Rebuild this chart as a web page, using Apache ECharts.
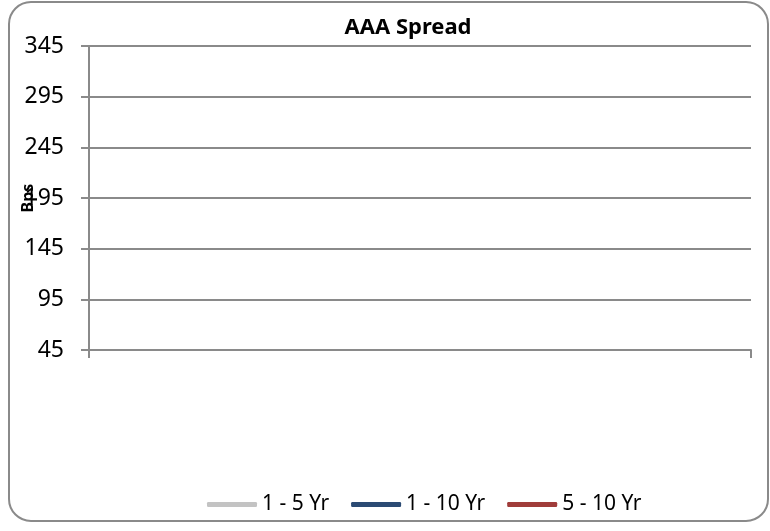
<!DOCTYPE html>
<html>
<head>
<meta charset="utf-8">
<script src="https://cdn.jsdelivr.net/npm/echarts@6/dist/echarts.min.js"></script>
<style>
  html, body { margin: 0; padding: 0; background: #fff; }
  #chart { width: 770px; height: 531px; }
</style>
</head>
<body>
<div id="chart"></div>
<script>
// chart data (no points were plotted in the source chart)
var categories = [""];
var yTicks = [45, 95, 145, 195, 245, 295, 345];
var seriesNames = ["1 - 5 Yr", "1 - 10 Yr", "5 - 10 Yr"];
var seriesColors = ["#c3c3c3", "#2b4a73", "#a03c3a"];
var seriesData = [[], [], []];

var myChart = echarts.init(document.getElementById("chart"));

var option = {
  backgroundColor: "#fff",
  textStyle: { fontFamily: "Noto Sans" },
  title: {
    text: "AAA Spread",
    left: 403,
    top: 12,
    textAlign: "center",
    textStyle: { fontSize: 22, fontWeight: "bold", color: "#000", fontFamily: "Noto Sans" }
  },
  graphic: [
    {
      type: "rect",
      shape: { x: 9, y: 2, width: 759, height: 519, r: 22 },
      style: { fill: "none", stroke: "#8a8a8a", lineWidth: 2 },
      silent: true
    }
  ],
  legend: {
    left: 202,
    top: 489,
    icon: "roundRect",
    itemWidth: 50,
    itemHeight: 5,
    itemGap: 22,
    textStyle: { fontSize: 21, color: "#000", fontFamily: "Noto Sans" },
    data: seriesNames
  },
  grid: { left: 89, right: 19, top: 46, bottom: 181, outerBoundsMode: "none", containLabel: false },
  xAxis: {
    type: "category",
    data: categories,
    boundaryGap: true,
    axisLine: { lineStyle: { color: "#8a8a8a", width: 2 } },
    axisTick: { show: true, length: 8, lineStyle: { color: "#8a8a8a", width: 2 } },
    axisLabel: { show: false }
  },
  yAxis: {
    type: "value",
    min: yTicks[0],
    max: yTicks[yTicks.length - 1],
    name: "Bps",
    nameLocation: "middle",
    nameRotate: 90,
    nameGap: 53,
    nameMoveOverlap: false,
    nameTextStyle: { fontSize: 16, fontWeight: "bold", color: "#000", fontFamily: "Noto Sans" },
    axisLine: { show: true, lineStyle: { color: "#8a8a8a", width: 2 } },
    axisTick: { show: true, length: 8, customValues: yTicks, lineStyle: { color: "#8a8a8a", width: 2 } },
    axisLabel: { margin: 25, fontSize: 23, color: "#000", customValues: yTicks },
    splitLine: { show: true, lineStyle: { color: "#8a8a8a", width: 2 } }
  },
  series: seriesNames.map(function (n, i) {
    return {
      name: n,
      type: "line",
      data: seriesData[i],
      symbol: "none",
      itemStyle: { color: seriesColors[i] },
      lineStyle: { color: seriesColors[i], width: 5 }
    };
  })
};
myChart.setOption(option);
</script>
</body>
</html>
